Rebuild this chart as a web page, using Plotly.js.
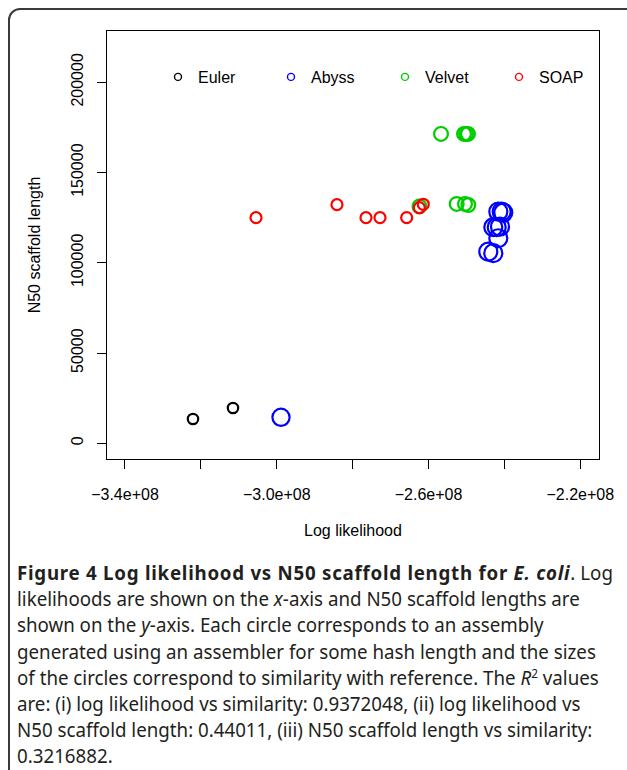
<!DOCTYPE html>
<html>
<head>
<meta charset="utf-8">
<script src="https://cdn.plot.ly/plotly-3.0.1.min.js"></script>
<style>
  html, body { margin: 0; padding: 0; background: #ffffff; }
  #wrap { position: relative; width: 627px; height: 770px; overflow: hidden; }
  #chart { position: absolute; left: 0; top: 0; width: 627px; height: 770px; }
  #frame {
    position: absolute; left: 8px; top: 8px; width: 700px; height: 900px;
    border: 2px solid #3a3a3a; border-radius: 12px; pointer-events: none; box-sizing: border-box;
  }
  #caption {
    position: absolute; left: 17px; top: 560px; white-space: nowrap;
    font-family: "Noto Sans", "Open Sans", sans-serif; font-size: 19px; line-height: 26.2px;
    color: #231f20; transform-origin: 0 0; transform: scaleX(0.985);
  }
  #caption b { letter-spacing: 0.75px; }
  #caption i { font-style: italic; }
  #caption sup { font-size: 12px; vertical-align: 7px; line-height: 0; }
</style>
</head>
<body>
<div id="wrap">
  <div id="chart"></div>
  <div id="frame"></div>
  <div id="caption">
    <b>Figure 4 Log likelihood vs N50 scaffold length for <i>E. coli</i></b>. Log<br>
    likelihoods are shown on the <i>x</i>-axis and N50 scaffold lengths are<br>
    shown on the <i>y</i>-axis. Each circle corresponds to an assembly<br>
    generated using an assembler for some hash length and the sizes<br>
    of the circles correspond to similarity with reference. The <i>R</i><sup>2</sup> values<br>
    are: (i) log likelihood vs similarity: 0.9372048, (ii) log likelihood vs<br>
    N50 scaffold length: 0.44011, (iii) N50 scaffold length vs similarity:<br>
    0.3216882.
  </div>
</div>
<script>
// ---- data ----
const assemblers = ["Euler", "Abyss", "Velvet", "SOAP"];

const eulerLogLik = [-3.2208e8, -3.1154e8];
const eulerN50    = [13460, 19560];
const eulerSim    = [0.52, 0.52];

const abyssLogLik = [-2.9888e8, -2.4161e8, -2.4072e8, -2.4029e8, -2.4293e8, -2.4203e8, -2.4116e8, -2.4161e8, -2.4425e8, -2.4293e8];
const abyssN50    = [14400, 128300, 128300, 127800, 119700, 119700, 120000, 113600, 106200, 105300];
const abyssSim    = [0.86, 0.90, 0.90, 0.90, 0.90, 0.90, 0.90, 0.90, 0.90, 0.90];

const velvetLogLik = [-2.5671e8, -2.5065e8, -2.5012e8, -2.4960e8, -2.5258e8, -2.5039e8, -2.4952e8, -2.6238e8];
const velvetN50    = [171400, 171400, 171400, 171400, 132600, 132600, 132000, 131200];
const velvetSim    = [0.69, 0.69, 0.69, 0.69, 0.69, 0.69, 0.69, 0.69];

const soapLogLik = [-3.0547e8, -2.8413e8, -2.7648e8, -2.7279e8, -2.6576e8, -2.6243e8, -2.6138e8];
const soapN50    = [125000, 132200, 125000, 125000, 125000, 130500, 132400];
const soapSim    = [0.55, 0.55, 0.55, 0.55, 0.55, 0.55, 0.55];

const xTickVals = [-3.4e8, -3.2e8, -3.0e8, -2.8e8, -2.6e8, -2.4e8, -2.2e8];
const xTickText = ["\u22123.4e+08", "", "\u22123.0e+08", "", "\u22122.6e+08", "", "\u22122.2e+08"];
const yTickVals = [0, 50000, 100000, 150000, 200000];
const yTickText = ["0", "50000", "100000", "150000", "200000"];

// ---- styling ----
const colors = ["#000000", "#0000ff", "#00cd00", "#ff0000"];
const SIZE_PX_PER_SIM = 20;
const FONT = "Liberation Sans, Arial, Helvetica, sans-serif";

const series = [
  [eulerLogLik, eulerN50, eulerSim],
  [abyssLogLik, abyssN50, abyssSim],
  [velvetLogLik, velvetN50, velvetSim],
  [soapLogLik, soapN50, soapSim]
];

const traces = series.map((s, i) => ({
  type: "scatter", mode: "markers", name: assemblers[i],
  x: s[0], y: s[1], showlegend: false, hoverinfo: "x+y",
  marker: { symbol: "circle-open", color: colors[i], opacity: 1,
            size: s[2].map(v => v * SIZE_PX_PER_SIM), line: { width: 2.2, color: colors[i] } }
}));

// legend-only entries, one legend per assembler (R-style horizontal legend)
const legendIds = ["legend", "legend2", "legend3", "legend4"];
assemblers.forEach((name, i) => {
  traces.push({
    type: "scatter", mode: "markers", name: name, x: [null], y: [null],
    legend: legendIds[i], showlegend: true, hoverinfo: "skip",
    marker: { symbol: "circle-open", color: colors[i], size: 7, opacity: 1, line: { width: 1.4, color: colors[i] } }
  });
});

const plotL = 107, plotR = 599, plotT = 31, plotB = 459;
const legendCirclePx = [178, 291, 405, 519];
const legendYpx = 77;

const layout = {
  width: 627, height: 770,
  margin: { l: plotL, r: 627 - plotR, t: plotT, b: 770 - plotB, pad: 0 },
  paper_bgcolor: "rgba(0,0,0,0)", plot_bgcolor: "#ffffff",
  font: { family: FONT, size: 16, color: "#000000" },
  showlegend: true,
  xaxis: {
    range: [-3.4474e8, -2.1507e8], tickmode: "array", tickvals: xTickVals, ticktext: xTickText,
    showgrid: false, zeroline: false, showline: true, mirror: true, linecolor: "#000", linewidth: 1,
    ticks: "outside", ticklen: 9, tickwidth: 1, tickcolor: "#000", ticklabelstandoff: 12,
    tickfont: { family: FONT, size: 16, color: "#000" },
    title: { text: "Log likelihood", font: { family: FONT, size: 16, color: "#000" }, standoff: 22 }
  },
  yaxis: {
    range: [-8700, 228400], tickmode: "array", tickvals: yTickVals, ticktext: yTickText,
    showgrid: false, zeroline: false, showline: true, mirror: true, linecolor: "#000", linewidth: 1,
    ticks: "outside", ticklen: 9, tickwidth: 1, tickcolor: "#000", tickangle: -90, ticklabelstandoff: 8,
    tickfont: { family: FONT, size: 16, color: "#000" },
    title: { text: "N50 scaffold length", font: { family: FONT, size: 16, color: "#000" }, standoff: 23 }
  }
};

legendIds.forEach((id, i) => {
  layout[id] = {
    x: (legendCirclePx[i] - 20 - plotL) / (plotR - plotL),
    y: (plotB - legendYpx) / (plotB - plotT),
    xanchor: "left", yanchor: "middle", orientation: "h",
    bgcolor: "rgba(0,0,0,0)", borderwidth: 0,
    font: { family: FONT, size: 16, color: "#000" }
  };
});

Plotly.newPlot("chart", traces, layout, { displayModeBar: false, staticPlot: true });
</script>
</body>
</html>
